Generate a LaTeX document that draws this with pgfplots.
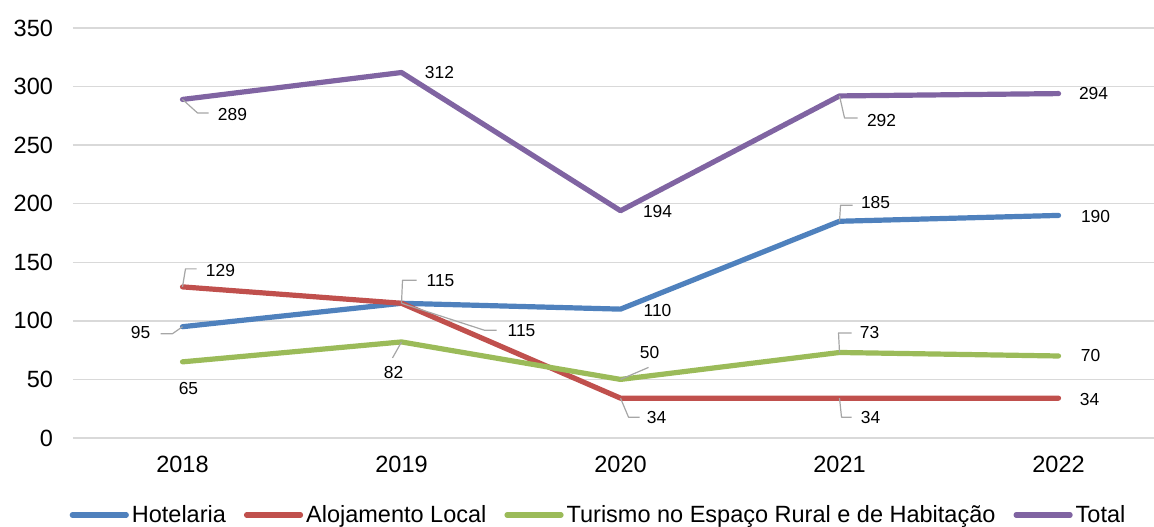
\documentclass[border=0pt]{standalone}
\usepackage{fontspec}
\setmainfont{Liberation Sans}
\usepackage{pgfplots}
\usepackage{pgfplotstable}
\pgfplotsset{compat=1.18}

\definecolor{hotblue}{RGB}{79,129,189}
\definecolor{alored}{RGB}{192,80,77}
\definecolor{terggreen}{RGB}{155,187,89}
\definecolor{totpurple}{RGB}{128,100,162}
\definecolor{leadgray}{RGB}{166,166,166}
\definecolor{gridgray}{RGB}{217,217,217}

% leader line from the point to its label (offsets in pt, per row)
\pgfdeclareplotmark{leader}{%
  \pgfpathmoveto{\pgfpointorigin}%
  \pgfpathlineto{\pgfpoint{\lax pt}{\lay pt}}%
  \pgfpathlineto{\pgfpoint{\lbx pt}{\lby pt}}%
  \pgfusepathqstroke}

% x y | label shift dx dy | leader corner ax ay | leader end bx by
\pgfplotstableread{
x y dx dy ax ay bx by
0 95 -21 -3 -5 -3.5 -11 -3.5
1 115 19.5 11.5 0.5 11.5 7.5 11.5
2 110 18.5 -0.5 0 0 0 0
3 185 18 9.5 0.5 8 6.5 8
4 190 18.5 -0.5 0 0 0 0
}\hotelaria
\pgfplotstableread{
x y dx dy ax ay bx by
0 129 19 8 1.5 9 7 9
1 115 60 -13.5 41.5 -13.5 47.5 -13.5
2 34 18 -9.5 4 -9.5 9.5 -9.5
3 34 15.5 -9.5 1 -9.5 6 -9.5
4 34 15.5 -0.5 0 0 0 0
}\alojamento
\pgfplotstableread{
x y dx dy ax ay bx by
0 65 3 -13.5 0 0 0 0
1 82 -4 -15.5 -4.5 -8 -4.5 -8
2 50 14.5 13.5 14 6 14 6
3 73 15 9.75 -0.5 9.75 6 9.75
4 70 16 0 0 0 0 0
}\turismo
\pgfplotstableread{
x y dx dy ax ay bx by
0 289 25 -7.75 7.5 -6.75 13 -6.75
1 312 19 0 0 0 0 0
2 194 18.5 -0.5 0 0 0 0
3 292 21 -12.5 2.5 -11 9 -11
4 294 17.5 0 0 0 0 0
}\total

\begin{document}
\begin{tikzpicture}
\begin{axis}[
  scale only axis,
  width=540.5pt,
  height=205pt,
  xmin=-0.5, xmax=4.436,
  ymin=0, ymax=350,
  enlargelimits=false,
  axis line style={draw=none},
  ymajorgrids,
  grid style={gridgray, line width=0.75pt},
  ytick={0,50,...,350},
  xtick={0,1,2,3,4},
  xticklabels={2018,2019,2020,2021,2022},
  major tick length=0pt,
  tick style={draw=none},
  /pgf/number format/assume math mode=true,
  tick label style={font=\fontsize{11.75}{14}\selectfont},
  yticklabel style={xshift=-6.5pt},
  xticklabel style={yshift=-5.6pt},
  every axis plot/.append style={line width=2.6pt, line cap=round, line join=round},
  mark=leader,
  mark options={draw=leadgray, line width=0.6pt, line cap=butt, solid},
  visualization depends on={\thisrow{dx} \as \ldx},
  visualization depends on={\thisrow{dy} \as \ldy},
  visualization depends on={\thisrow{ax} \as \lax},
  visualization depends on={\thisrow{ay} \as \lay},
  visualization depends on={\thisrow{bx} \as \lbx},
  visualization depends on={\thisrow{by} \as \lby},
  nodes near coords,
  nodes near coords style={anchor=center, xshift=\ldx pt, yshift=\ldy pt,
    text=black, inner sep=0pt, font=\fontsize{8.7}{10}\selectfont},
  legend image code/.code={\draw[#1, mark=none, line width=2.6pt, line cap=round] (0pt,0pt) -- (27pt,0pt);},
  legend cell align=left,
  legend columns=-1,
  legend style={draw=none, fill=none, at={(0.4866,-0.1878)}, anchor=center,
    font=\fontsize{11.75}{14}\selectfont, inner sep=0pt,
    nodes={inner xsep=1.5pt, inner ysep=1pt},
    /tikz/every even column/.append style={column sep=7.5pt}},
]
\addplot[hotblue] table[x=x, y=y] {\hotelaria};
\addplot[alored] table[x=x, y=y] {\alojamento};
\addplot[terggreen] table[x=x, y=y] {\turismo};
\addplot[totpurple] table[x=x, y=y] {\total};
\legend{Hotelaria, Alojamento Local, Turismo no Espaço Rural e de Habitação, Total}
\coordinate (sw) at (rel axis cs:0,0);
\coordinate (ne) at (rel axis cs:1,1);
\end{axis}
\pgfresetboundingbox
\path[use as bounding box] ([shift={(-36.5pt,-44.5pt)}]sw) rectangle ([shift={(0pt,14pt)}]ne);
\end{tikzpicture}
\end{document}
